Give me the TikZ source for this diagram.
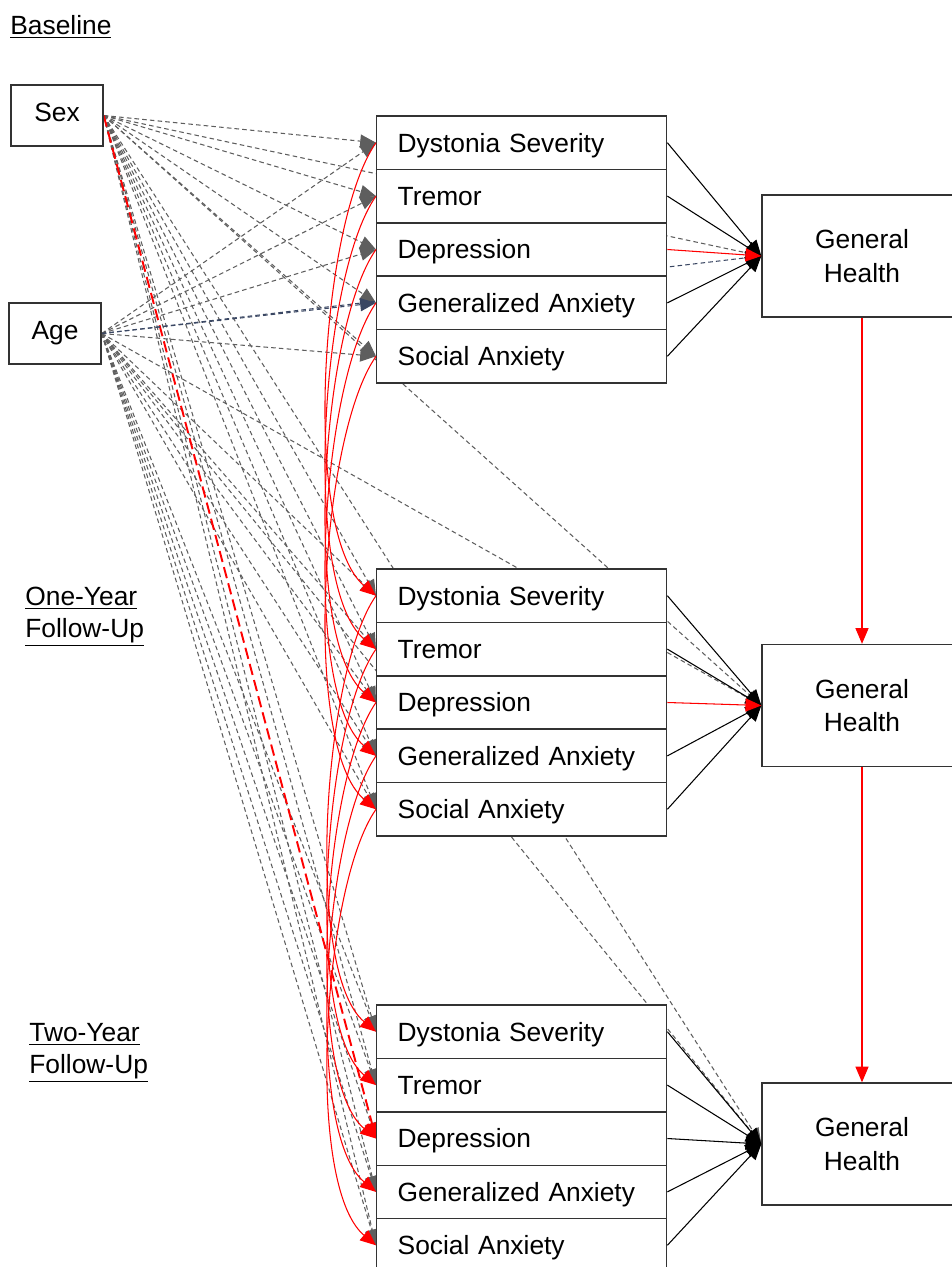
\documentclass[tikz,border=0pt]{standalone}
\usepackage{fontspec}
\setmainfont{Liberation Sans}
\usetikzlibrary{arrows.meta}
\pgfdeclarelayer{background}
\pgfsetlayers{background,main}

\definecolor{pathgray}{HTML}{5E5E5E}
\definecolor{pathnavy}{HTML}{3A4763}
\definecolor{boxline}{HTML}{333333}

\tikzset{
  every node/.style={font=\fontsize{15}{18}\selectfont},
  rowbox/.style={draw=boxline, fill=white, line width=0.8pt, anchor=west,
    minimum height=1.068cm, text width=4.96cm, inner xsep=0.42cm, align=left,
    text height=11pt, text depth=0.3pt},
  ghbox/.style={draw=boxline, fill=white, line width=0.8pt, minimum width=4cm,
    minimum height=2.44cm, align=center, font=\fontsize{15}{19}\selectfont,
    execute at begin node={\rule{0pt}{15pt}}},
  covbox/.style={draw=boxline, fill=white, line width=0.8pt,
    minimum width=1.84cm, minimum height=1.22cm,
    text height=11pt, text depth=4.3pt},
  wavelabel/.style={anchor=west, align=left, inner sep=0pt},
  covpath/.style={pathgray, line width=0.6pt, dash pattern=on 2.6pt off 1.8pt,
    -{Triangle[length=9pt,width=7.5pt]}},
  covnavy/.style={covpath, pathnavy},
  covred/.style={red, line width=1.1pt, dash pattern=on 6.5pt off 3pt,
    -{Triangle[length=9pt,width=7.5pt]}},
  redpath/.style={red, line width=0.6pt, -{Triangle[length=9pt,width=7.5pt]}},
  ghpath/.style={black, line width=0.6pt, -{Triangle[length=9pt,width=7.5pt]}},
}

\begin{document}
\begin{tikzpicture}[x=0.02cm, y=-0.02cm]
\useasboundingbox (0,0) rectangle (952,1267);

% wave labels
\node[wavelabel] (lbase) at (10,27) {\underline{Baseline}};
\node[wavelabel] (lone) at (25,617) {\underline{One-Year}\\\underline{Follow-Up}};
\node[wavelabel] (ltwo) at (29,1053) {\underline{Two-Year}\\\underline{Follow-Up}};

% covariates
\node[covbox] (sex) at (57,115.5) {Sex};
\node[covbox] (age) at (55,333.5) {Age};

% three waves of predictors
\foreach \lab [count=\i] in {Dystonia Severity, Tremor, Depression,
    Generalized Anxiety, Social Anxiety} {
  \node[rowbox] (base\i) at (376,{116+53.4*(\i-0.5)}) {\lab};
  \node[rowbox] (one\i) at (376,{569+53.4*(\i-0.5)}) {\lab};
  \node[rowbox] (two\i) at (376,{1005+53.4*(\i-0.5)}) {\lab};
}

% outcome
\node[ghbox] (ghbase) at (862,256) {General\\Health};
\node[ghbox] (ghone) at (862,705.5) {General\\Health};
\node[ghbox] (ghtwo) at (862,1144) {General\\Health};

% covariate paths
\begin{pgfonlayer}{background}
\foreach \t in {base1,base2,base3,base4,base5,one1,one2,one3,one4,one5,
    two1,two2,two4,two5,ghbase,ghone,ghtwo}
  \draw[covpath] (sex.east) -- (\t.west);
\foreach \t in {base1,base2,base3,base5,one1,one2,one3,one4,one5,
    two1,two2,two3,two4,two5,ghone,ghtwo}
  \draw[covpath] (age.east) -- (\t.west);
\draw[covred] (sex.east) -- (two3.west);
\draw[covnavy] (age.east) -- (base4.west);
\draw[covnavy] (age.east) -- (ghbase.west);
\end{pgfonlayer}

% stability paths
\foreach \i in {1,...,5} {
  \draw[redpath] (base\i.west) to[out=235,in=140,looseness=0.55] (one\i.west);
  \draw[redpath] (one\i.west) to[out=235,in=140,looseness=0.55] (two\i.west);
}

% predictors to general health
\foreach \i in {1,2,4,5} {
  \draw[ghpath] (base\i.east) -- (ghbase.west);
  \draw[ghpath] (one\i.east) -- (ghone.west);
}
\foreach \i in {1,...,5}
  \draw[ghpath] (two\i.east) -- (ghtwo.west);
\draw[redpath] (base3.east) -- (ghbase.west);
\draw[redpath] (one3.east) -- (ghone.west);

\draw[redpath] (ghbase.south) -- (ghone.north);
\draw[redpath] (ghone.south) -- (ghtwo.north);
\end{tikzpicture}
\end{document}
